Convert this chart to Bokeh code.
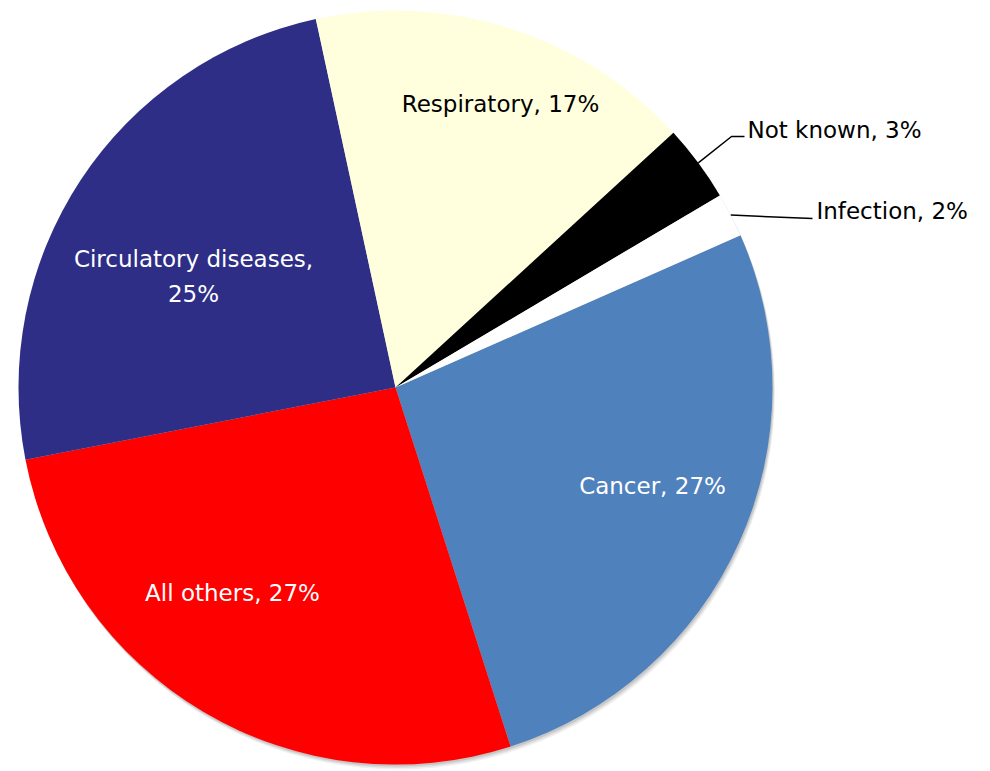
import math
from bokeh.plotting import figure
from bokeh.models import Range1d
from bokeh.core.properties import value
from bokeh.embed import file_html
from bokeh.resources import INLINE

# Data (clockwise order starting at the first slice angle)
categories = ["Cancer", "All others", "Circulatory diseases", "Respiratory", "Not known", "Infection"]
shares = [26.7, 26.9, 24.7, 16.6, 3.3, 1.9]
pct_labels = ["27%", "27%", "25%", "17%", "3%", "2%"]
colors = ["#4F81BD", "#FF0000", "#2E2E87", "#FFFFDD", "#000000", "#FFFFFF"]
first_angle_deg = 23.8

W, H = 990, 771

def py(y_page):
    return H - y_page

p = figure(width=W, height=H, output_backend="svg", toolbar_location=None,
           x_range=Range1d(0, W), y_range=Range1d(0, H),
           min_border=0, outline_line_color=None)
p.axis.visible = False
p.grid.visible = False
p.background_fill_color = "white"

cx, cy_page, r = 395, 387, 377
cy = py(cy_page)

# subtle shadow
for off, a in [(5, 0.06), (3.5, 0.08), (2, 0.10)]:
    p.circle(x=[cx + off * 0.5], y=[cy - off], radius=r, fill_color="black",
             fill_alpha=a, line_color=None)

total = sum(shares)
starts, ends, mids = [], [], []
ang = math.radians(first_angle_deg)
for s in shares:
    span = 2 * math.pi * s / total
    ends.append(ang)
    starts.append(ang - span)
    mids.append(ang - span / 2)
    ang -= span

p.wedge(x=[cx] * len(shares), y=[cy] * len(shares), radius=r,
        start_angle=starts, end_angle=ends, fill_color=colors, line_color=None)

font = value("DejaVu Sans")
fs = "23px"

def label(x, y_page, txt, color):
    p.text(x=[x], y=[py(y_page)], text=[txt], text_font=font, text_font_size=fs,
           text_color=color, text_align="center", text_baseline="middle")

label(500, 103, f"{categories[3]}, {pct_labels[3]}", "black")
label(193, 258, f"{categories[2]},", "white")
label(193, 293, pct_labels[2], "white")
label(232, 592, f"{categories[1]}, {pct_labels[1]}", "white")
label(652, 485, f"{categories[0]}, {pct_labels[0]}", "white")

# leader lines and outside labels
nk_mid = mids[4]
sx, sy = cx + r * math.cos(nk_mid), cy + r * math.sin(nk_mid)
p.line(x=[sx, 731, 744], y=[sy, py(136), py(136)], line_color="black", line_width=1.5)
p.text(x=[747], y=[py(129)], text=[f"{categories[4]}, {pct_labels[4]}"], text_font=font,
       text_font_size=fs, text_color="black", text_align="left", text_baseline="middle")

inf_mid = mids[5]
sx, sy = cx + r * math.cos(inf_mid), cy + r * math.sin(inf_mid)
p.line(x=[sx, 812], y=[sy, py(218)], line_color="black", line_width=1.5)
p.text(x=[816], y=[py(210)], text=[f"{categories[5]}, {pct_labels[5]}"], text_font=font,
       text_font_size=fs, text_color="black", text_align="left", text_baseline="middle")

open("out.html", "w").write(file_html(p, INLINE))
